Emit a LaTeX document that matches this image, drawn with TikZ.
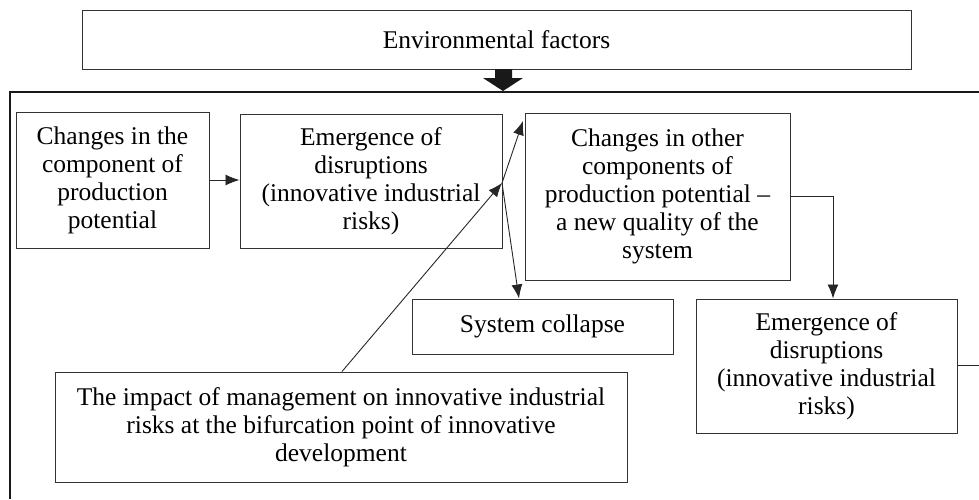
\documentclass[tikz,border=0pt]{standalone}
\usepackage{fontspec}
\setmainfont{Liberation Serif}
\usetikzlibrary{arrows.meta}
\begin{document}
\begin{tikzpicture}[x=1pt,y=-1pt,
  box/.style={draw=black!80, line width=1pt, inner sep=0pt, align=center,
    font=\fontsize{25.5}{28}\selectfont},
  conn/.style={line width=0.9pt, draw=black!85},
  arr/.style={conn, -{Latex[length=14pt,width=11pt]}}]
\useasboundingbox (0,0) rectangle (979,499);
% outer frame
\draw[line width=1.6pt, black!90] (979,92) -- (10,92) -- (10,499);
% boxes
\node[box, minimum width=829pt, minimum height=59pt] (env) at (496.5,39.5) {Environmental factors};
\node[box, minimum width=193pt, minimum height=136pt] (A) at (112.5,180) {Changes in the\\component of\\production\\potential};
\node[box, minimum width=262pt, minimum height=134pt] (B) at (371,181) {Emergence of\\disruptions\\(innovative industrial\\risks)};
\node[box, minimum width=265pt, minimum height=167pt] (C) at (657.5,196.5) {Changes in other\\components of\\production potential --\\a new quality of the\\system};
\node[box, minimum width=261pt, minimum height=55pt] (D) at (542.5,326.5) {System collapse};
\node[box, minimum width=261pt, minimum height=134pt] (E) at (826.5,366) {Emergence of\\disruptions\\(innovative industrial\\risks)};
\node[box, minimum width=572pt, minimum height=110pt] (F) at (341,427) {The impact of management on innovative industrial\\risks at the bifurcation point of innovative\\development};
% thick arrow from environmental factors
\fill[black!90] (495,69) -- (512,69) -- (512,78) -- (523,78) -- (503,91) -- (483,78) -- (495,78) -- cycle;
% connectors
\coordinate (j) at (502,183);
\coordinate (cu) at (523,121);
\coordinate (eout) at (979,365);
\draw[arr] (A.east) -- (A.east -| B.west);
\draw[arr] ([xshift=1pt]F.north) -- (j);
\draw[arr] (j) -- (cu);
\draw[arr] (j) -- ([xshift=-23.5pt]D.north);
\draw[arr] (C.east) -| ([xshift=6.5pt]E.north);
\draw[conn] (E.east |- eout) -- (eout);
\end{tikzpicture}
\end{document}
